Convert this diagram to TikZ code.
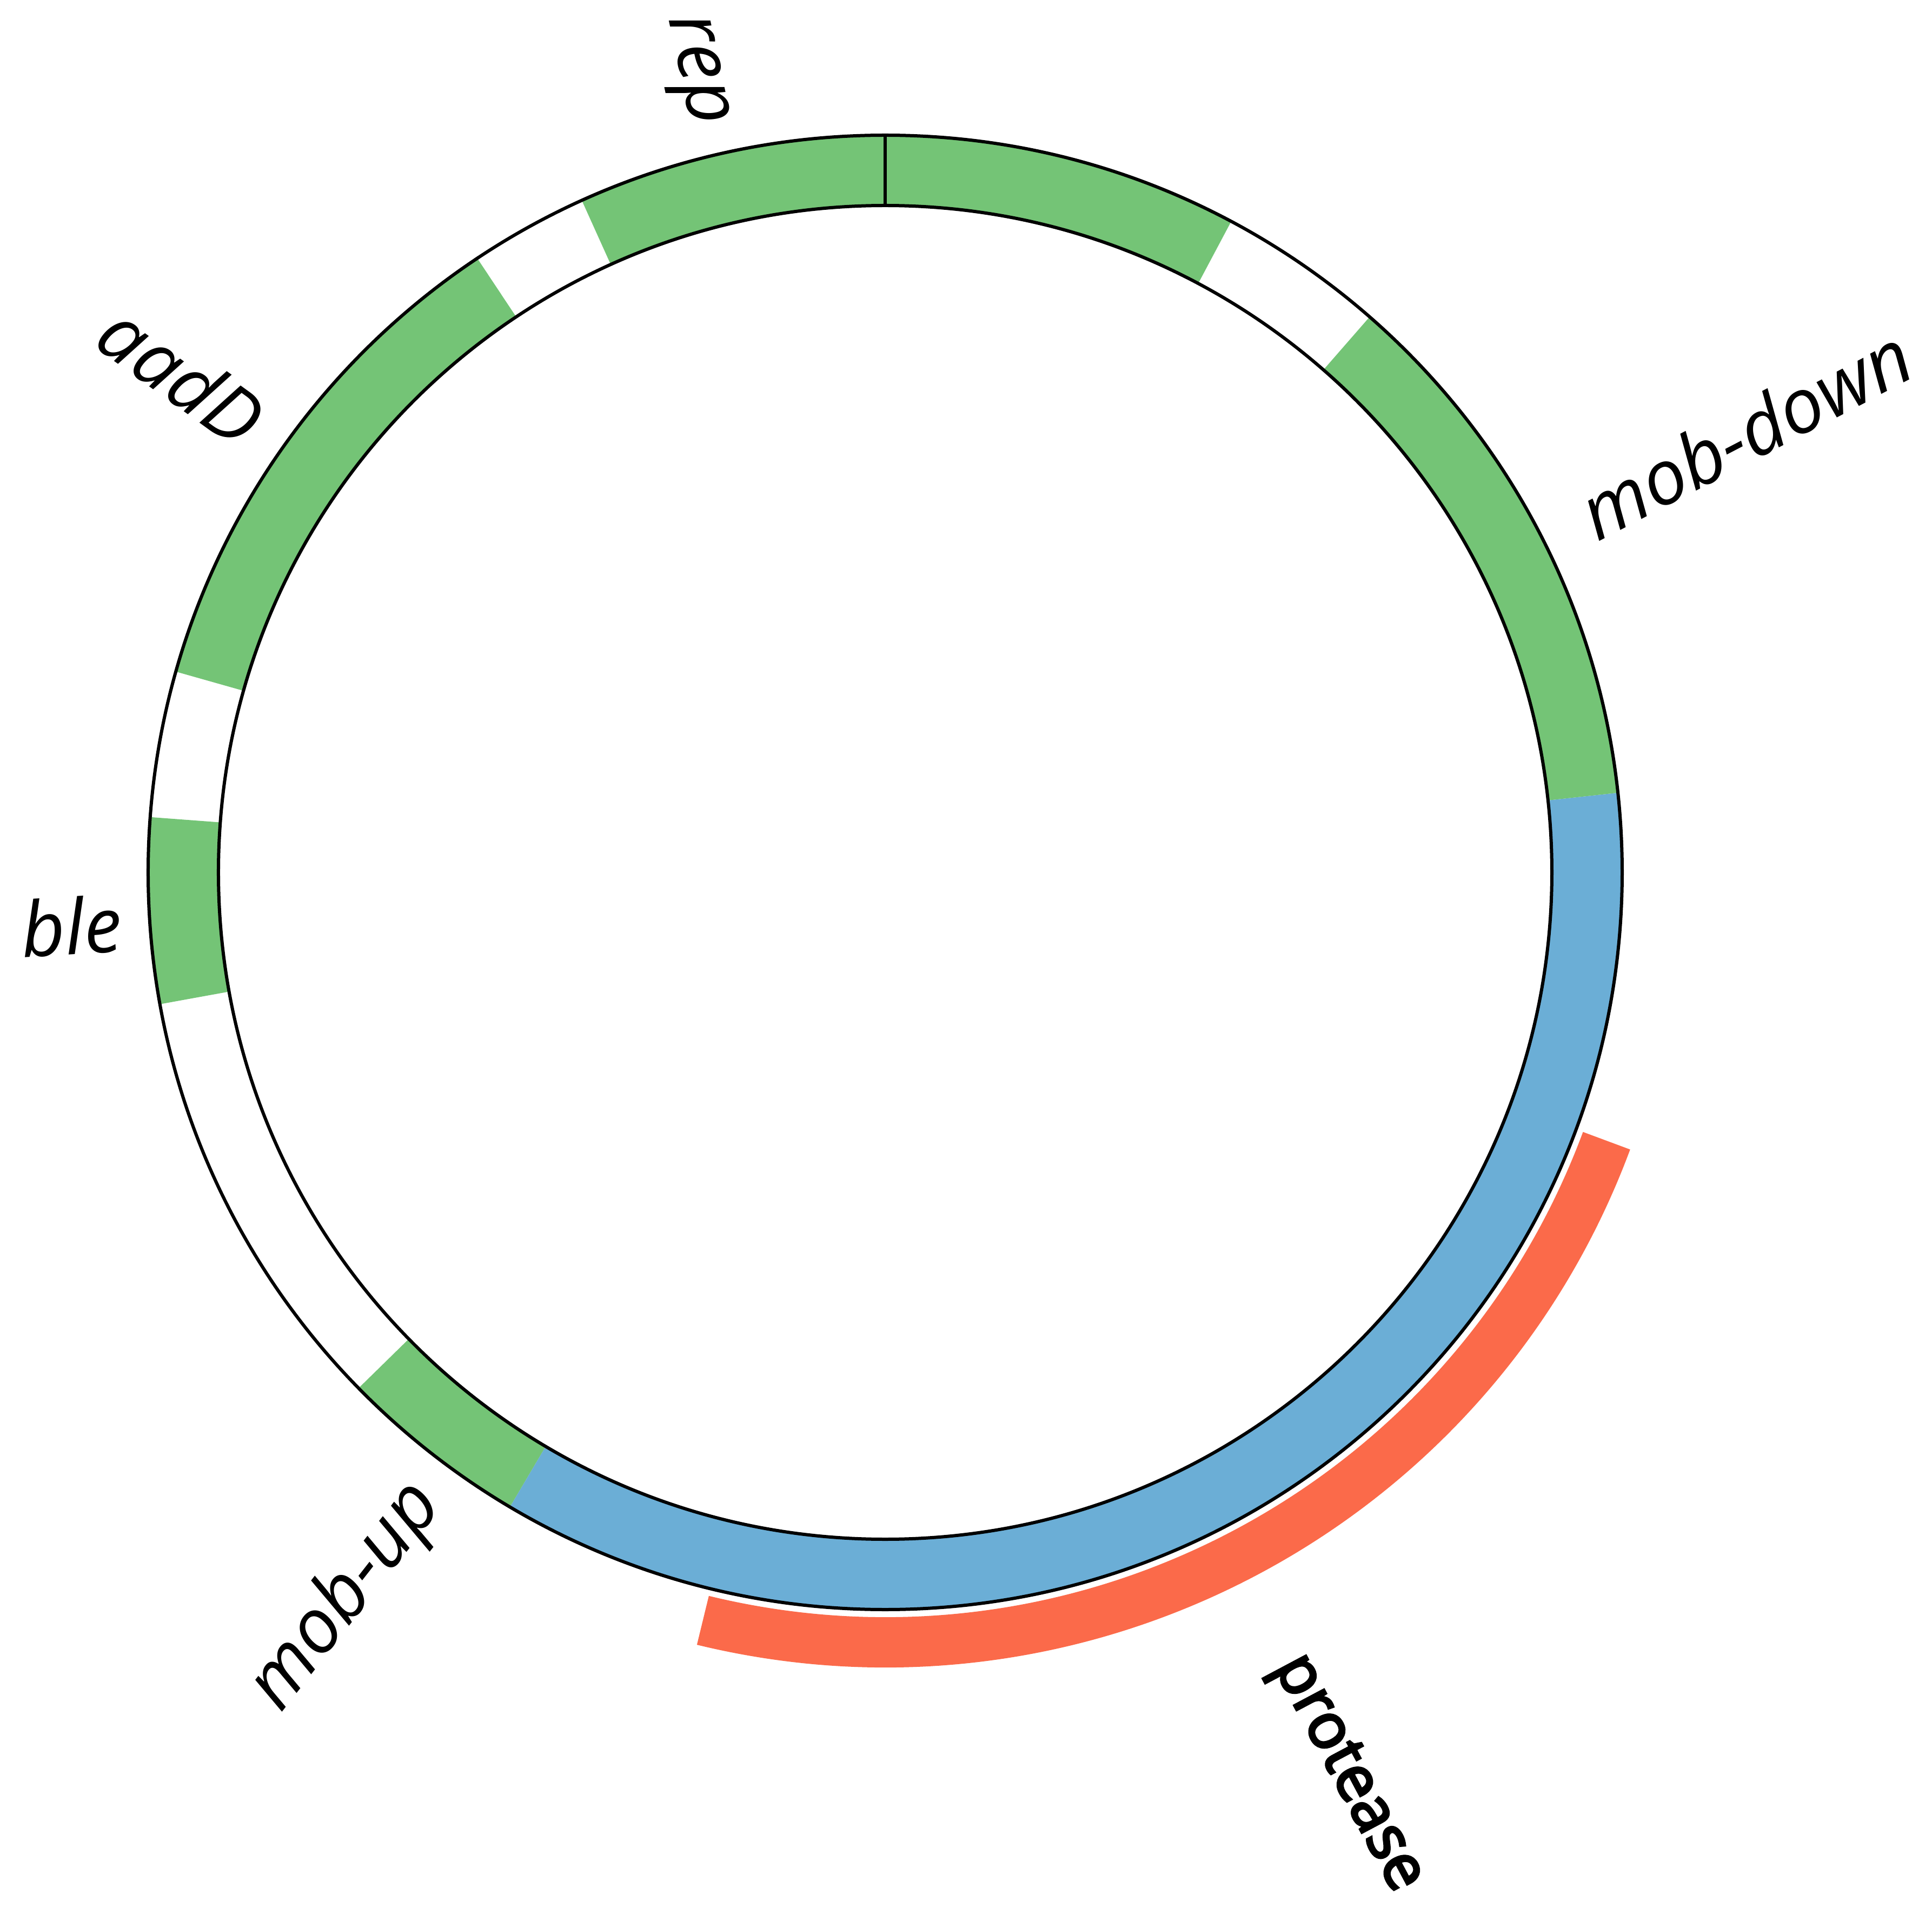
\documentclass[tikz,border=0pt]{standalone}
\usepackage{fontspec}
\setmainfont{Open Sans}
\newfontfamily\protfont{Open Sans}[FakeBold=4]
\definecolor{gr}{HTML}{74C476}
\definecolor{bl}{HTML}{6BAED6}
\definecolor{rd}{HTML}{FB6A4A}
\newcommand\ringseg[3]{\fill[#1] (#2:12.33) arc[start angle=#2,end angle=#3,radius=12.33] -- (#3:13.63) arc[start angle=#3,end angle=#2,radius=13.63] -- cycle;}
\begin{document}
\begin{tikzpicture}
\useasboundingbox (-16.37,-19.37) rectangle (19.36,16.13);
\tikzset{
  ringline/.style={line width=0.06cm, draw=black},
  genelbl/.style={font=\fontsize{40}{48}\selectfont\itshape, inner sep=0pt},
  featlbl/.style={font=\fontsize{33}{40}\selectfont\protfont, inner sep=0pt},
}
\ringseg{gr}{62}{114.3}
\ringseg{gr}{123.6}{164.2}
\ringseg{gr}{175.7}{190.3}
\ringseg{gr}{224.4}{239.4}
\ringseg{bl}{239.4}{366.2}
\ringseg{gr}{6.2}{48.9}
\fill[rd] (-20.4:13.77) arc[start angle=-20.4,end angle=-103.7,radius=13.77] -- (-103.7:14.70) arc[start angle=-103.7,end angle=-20.4,radius=14.70] -- cycle;
\draw[ringline] (0,0) circle[radius=12.33];
\draw[ringline] (0,0) circle[radius=13.63];
\draw[ringline] (90:12.33) -- (90:13.63);
\node[genelbl, rotate=-78] (rep) at (-3.58,14.82) {rep};
\node[genelbl, rotate=27.5] (mobdown) at (15.90,8.12) {mob-down};
\node[genelbl, rotate=-36] (aadD) at (-13.01,9.20) {aadD};
\node[genelbl, rotate=3.8] (ble) at (-15.05,-0.99) {ble};
\node[genelbl, rotate=52] (mobup) at (-9.96,-13.40) {mob-up};
\node[featlbl, rotate=-62] (protease) at (8.52,-16.68) {protease};
\end{tikzpicture}
\end{document}
